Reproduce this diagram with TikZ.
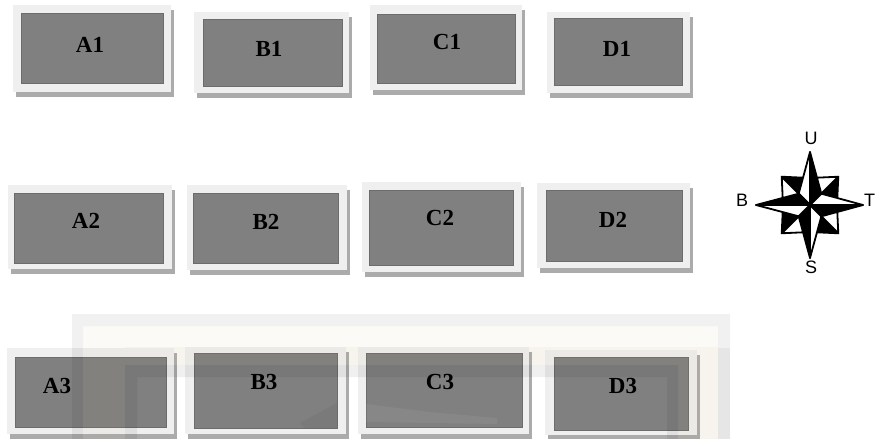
\documentclass[tikz,border=0pt]{standalone}
\usepackage{fontspec}
\setmainfont{Liberation Serif}
\newfontfamily\compfont{Liberation Sans}
\definecolor{framec}{HTML}{EFEFEF}
\definecolor{shadowc}{HTML}{ABABAB}
\definecolor{innerc}{HTML}{808080}
\definecolor{inneredge}{HTML}{6C6C6C}
\definecolor{creamc}{HTML}{B8A060}
\tikzset{
  frm/.style={fill=framec},
  shd/.style={fill=shadowc},
  innerbox/.style={fill=innerc, draw=inneredge, line width=0.8pt},
  lbl/.style={inner sep=0pt, font=\fontsize{23}{26}\selectfont\bfseries, text=black},
  clbl/.style={inner sep=0pt, font=\fontsize{18}{20}\selectfont\compfont, text=black},
  blackhalf/.style={fill=black, draw=black, line width=1.8pt, line join=round},
  whitehalf/.style={fill=white, draw=black, line width=1.8pt, line join=round},
}
\newcommand\panel[9]{%
  \fill[shd] (#2+3,#3+5) rectangle (#4+3,#5+5);
  \fill[frm] (#2,#3) rectangle (#4,#5);
  \path[innerbox] (#6,#7) rectangle (#8,#9);
}
\newcommand\spike[3]{% angle, tip radius, side radius
  \path[blackhalf] (0,0) -- (#1:#2) -- (#1-45:#3) -- cycle;
  \path[whitehalf] (0,0) -- (#1:#2) -- (#1+45:#3) -- cycle;
}
\begin{document}
\begin{tikzpicture}[x=1pt,y=-1pt]
\useasboundingbox (0,0) rectangle (876,439);
\fill[white] (0,0) rectangle (876,439);

% watermark background (visible in the gaps)
\fill[black, opacity=0.055, even odd rule] (72,314) rectangle (730,439) (83,326) rectangle (718,439);
\fill[creamc, opacity=0.05, even odd rule] (83,326) rectangle (718,439) (125,365) rectangle (678,439);

% row 1
\panel{A1}{13}{5}{171}{92}{21}{13}{163}{83}
\node[lbl] (A1) at (90,45) {A1};
\panel{B1}{194}{12}{349}{93}{203}{19}{342}{86}
\node[lbl] (B1) at (269,49) {B1};
\panel{C1}{370}{5}{522}{90}{377}{14}{515}{83}
\node[lbl] (C1) at (447,42) {C1};
\panel{D1}{547}{12}{690}{93}{554}{18}{682}{85}
\node[lbl] (D1) at (617,49) {D1};

% row 2
\panel{A2}{8}{185}{172}{269}{14}{193}{163}{263}
\node[lbl] (A2) at (86,221) {A2};
\panel{B2}{187}{185}{347}{270}{193}{193}{338}{263}
\node[lbl] (B2) at (266,222) {B2};
\panel{C2}{362}{182}{521}{272}{369}{190}{513}{265}
\node[lbl] (C2) at (440,218) {C2};
\panel{D2}{537}{183}{690}{268}{546}{190}{682}{261}
\node[lbl] (D2) at (613,220) {D2};

% row 3
\panel{A3}{7}{348}{174}{434}{15}{357}{166}{427}
\panel{B3}{185}{347}{346}{434}{194}{353}{337}{428}
\panel{C3}{358}{347}{529}{434}{366}{353}{522}{427}
\panel{D3}{545}{350}{697}{435}{554}{357}{688}{430}

% watermark overlay on row 3
\fill[black, opacity=0.06] (72,348) rectangle (83,439);
\fill[creamc, opacity=0.06] (83,348) rectangle (125,439);
\fill[creamc, opacity=0.06] (125,347) rectangle (678,365);
\fill[creamc, opacity=0.06] (678,347) rectangle (718,439);
\fill[black, opacity=0.045] (718,348) rectangle (730,439);
\fill[black, opacity=0.06, even odd rule] (125,365) rectangle (678,439) (137,377) rectangle (667,439);
\fill[black, opacity=0.04] (300,423) -- (337,403) -- (337,428) -- (305,428) -- cycle;
\fill[white, opacity=0.06] (366,404) -- (430,412) -- (497,418) -- (497,424) -- (366,422) -- cycle;

\node[lbl] (A3) at (57,386) {A3};
\node[lbl] (B3) at (264,382) {B3};
\node[lbl] (C3) at (440,382) {C3};
\node[lbl] (D3) at (623,386) {D3};

% compass rose
\begin{scope}[shift={(810,205)}, yscale=-1]
  \spike{45}{40}{27}
  \spike{135}{40}{27}
  \spike{225}{40}{27}
  \spike{315}{40}{27}
  \spike{90}{53}{16}
  \spike{0}{53}{16}
  \spike{270}{53}{16}
  \spike{180}{54}{16}
  \coordinate (cc) at (0,0);
\end{scope}
\node[clbl] (U) at (811,138) {U};
\node[clbl] (S) at (811,267) {S};
\node[clbl] (Bw) at (742,200) {B};
\node[clbl, anchor=west] (T) at (864,200) {T};
\end{tikzpicture}
\end{document}
